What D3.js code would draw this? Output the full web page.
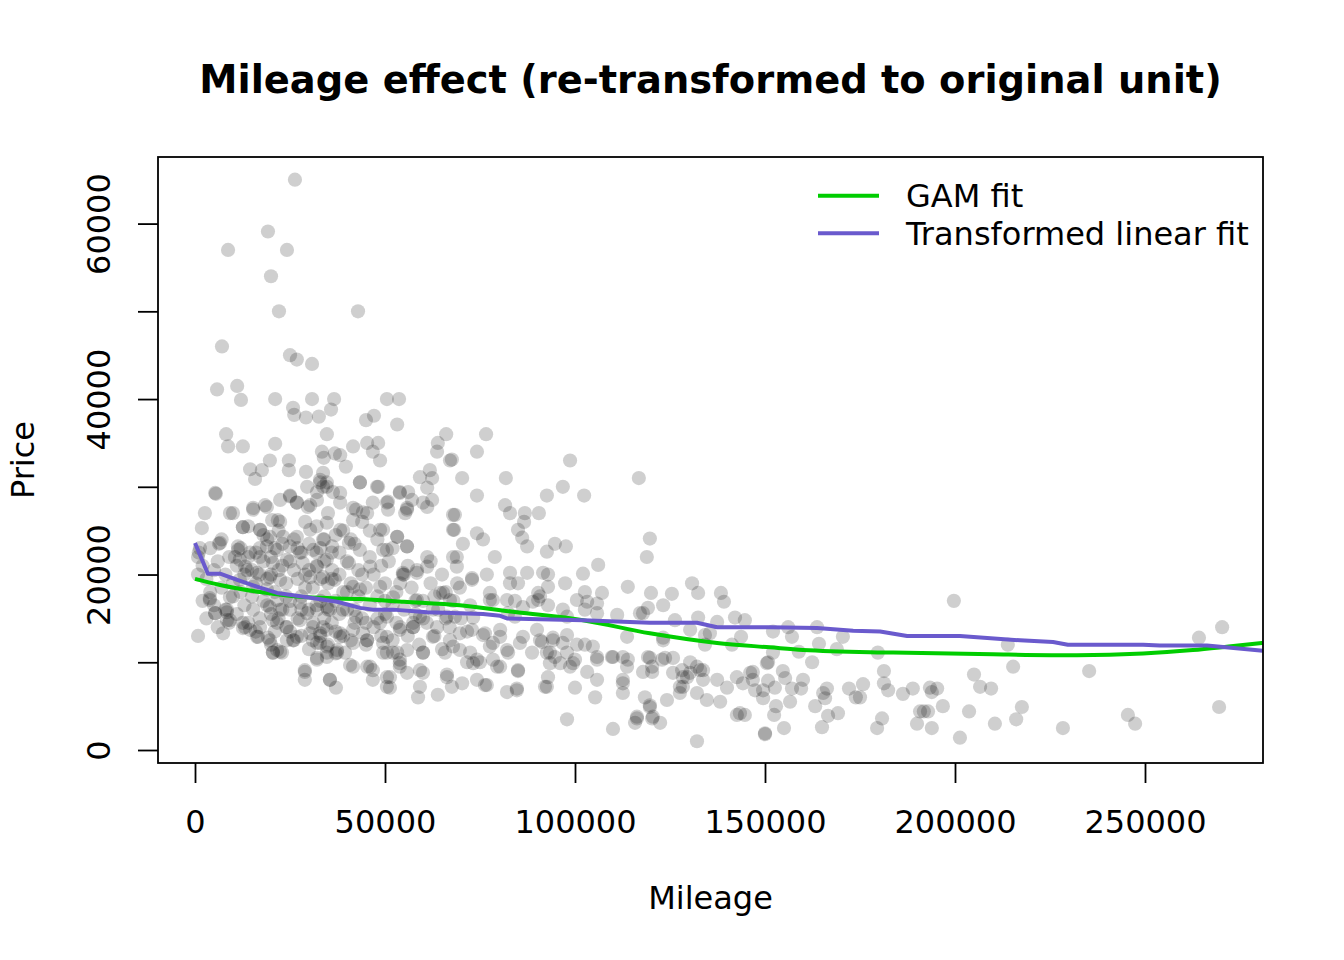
<!DOCTYPE html>
<html><head><meta charset="utf-8">
<script src="https://cdn.jsdelivr.net/npm/d3@7/dist/d3.min.js"></script>
<style>body{margin:0;background:#fff} text{font-family:"DejaVu Sans",sans-serif;fill:#000}</style>
</head><body><svg id="c" width="1344" height="960"></svg>
<script>
// [mileage, price]
const cars = [
[26300,65000],[19200,59100],[8700,57000],[24200,57000],[20000,54000],[22100,50000],[42900,50000],[7100,46000],
[25000,45000],[26800,44500],[30800,44000],[5800,41100],[11100,41500],[12100,39900],[21100,40000],[30800,40000],
[36600,40000],[50500,40000],[53700,40000],[25800,39000],[26100,38200],[29200,37900],[32600,38000],[35800,38800],
[45000,37600],[47100,38100],[53200,37100],
[8200,36000],[8700,34600],[12600,34600],[21100,34900],[34700,36000],[45300,35000],[48200,35000],[46800,34000],
[48700,33000],[41600,34600],[33400,34000],[33900,33300],[36800,33800],[38200,33600],[39700,32300],[19700,33000],
[14500,32000],[17600,31900],[15800,30900],[24700,33000],[24700,31900],[29200,31700],[33700,31600],[32900,30500],
[34700,30000],[32100,29400],[36300,29400],[43400,30500],[48200,30000],[59200,31100],[61800,31900],[62400,31000],
[63900,35000],[66100,36000],[63700,34000],[67100,33000],[61100,29900],[62400,28500],[61100,27700],[53900,29400],
[56100,29400],[57100,28500],[55800,27600],[55300,27000],[67900,26800],[67900,25100],[5500,29200],[2600,27000],
[10000,27000],[1800,25300],[12600,25400],[15300,27600],[6300,23500],[1300,23000],[11300,23200],[800,22000],
[800,20000],[10500,22000],[13200,20900],[25000,29000],[26800,28200],[30300,27900],[29500,30000],[22400,28500],
[18400,27900],[17100,25100],[21800,26200],[38200,28200],[41600,27600],[44200,27100],[46800,28200],[50800,28300],
[50800,27400],[48700,25100],[53200,24300],[55800,23200],[50500,22800],[61100,22000],[61100,20900],[67900,22000],
[68900,20900],[54700,20000],[58400,20200],[64500,17900],[67100,17100],[58400,17100],[57400,14000],[63700,14000],
[67100,12500],[60000,11100],[65800,11100],[52100,11100],[53900,9500],[60000,8800],[66300,8600],[63900,6300],
[58700,6000],[51300,7100],[50500,8300],[46800,9100],[45300,9500],[40800,9700],[37400,11100],[39500,11100],
[34700,11100],[32100,10500],[28900,9100],[28900,8000],[35500,8000],[37100,7100],[20500,11100],[22900,11100],
[21600,11400],[800,13000],[7400,13300],[5300,15600],[3900,17100],[8400,16000],[8400,14800],[13200,14000],
[16600,12900],[19200,12800],[25800,12500],[32900,13300],[32900,12200],[38200,12900],[41600,13700],[45300,12500],
[49500,12200],[50500,11100],[53900,10300],
// dense cluster
[14000,22000],[15000,20500],[16000,19000],[17000,23000],[18000,21500],[18000,17000],[19000,24000],[19000,19500],
[20000,15500],[20000,22000],[21000,18000],[21000,13500],[22000,20500],[22000,25000],[23000,16000],[23000,23500],
[24000,19000],[24000,14000],[25000,21500],[25000,17000],[26000,24000],[26000,12500],[27000,19500],[27000,15000],
[28000,22500],[28000,17500],[28000,13000],[29000,20000],[29000,26000],[30000,16000],[30000,23500],[30000,11500],
[31000,18500],[31000,14000],[32000,21000],[32000,25500],[32000,16500],[33000,13000],[33000,19500],[33000,23000],
[34000,15000],[34000,17500],[34000,21500],[35000,12000],[35000,27000],[35000,19000],[36000,14500],[36000,22500],
[37000,17000],[37000,24500],[37000,11000],[38000,20000],[38000,15500],[39000,18000],[39000,13000],[39000,25000],
[40000,21500],[40000,16000],[41000,19000],[41000,12500],[42000,23500],[42000,14500],[43000,17500],[43000,20500],
[44000,15000],[44000,26000],[45000,18500],[45000,12000],[46000,22000],[46000,16500],[47000,14000],[47000,20000],
[48000,17500],[48000,24000],[49000,13000],[50000,19000],[50000,15500],[51000,21500],[52000,16500],[52000,12500],
[53000,18000],[54000,14000],[55000,20000],[55000,16000],[56000,13000],[57000,18500],[58000,15500],[59000,12000],
[60000,17000],[61000,14500],[62000,19000],[63000,13000],[64000,16000],[65000,11500],[66000,18000],[67000,14000],
[1000,22500],[2000,21000],[2000,17000],[3000,19500],[3000,15000],[4000,23000],[4000,18000],[5000,16500],
[5000,20500],[6000,14000],[6000,21500],[7000,18500],[7000,24000],[8000,16000],[8000,20000],[9000,22000],
[9000,14500],[10000,17500],[10000,19000],[11000,21000],[11000,15500],[12000,23000],[12000,18000],[13000,16500],
[13000,20000],[14000,14500],[14000,25500],[15000,17500],[16000,13500],[16000,22500],[17000,20000],[17000,15000],
[18000,24500],[19000,16500],[20000,20000],[20000,12000],[21000,23000],[22000,15000],[23000,21000],[24000,17500],
[25000,13500],[26000,20500],[27000,23000],[28000,16000],[29000,18500],[30000,20500],[31000,12500],[32000,22500],
[33000,17000],[34000,24000],[35000,16000],[36000,19500],[37000,13500],[38000,22500],[40000,18000],[41000,24000],
[42000,16000],[44000,20000],[45000,14500],[46000,25000],[48000,15000],[49000,21000],[50000,17000],[52000,23000],
[53000,14500],[54000,19000],[56000,21000],[58000,17000],[60000,15000],[62000,21500],[63000,17500],[65000,20000],
[66000,15000],[68000,17000],[69000,19000],[70000,15000],
// dense cluster, second pass
[18900,27700],[15300,27400],[20300,26200],[22400,26000],[25000,28900],[26800,28200],[29700,27700],[32100,28500],
[33700,30000],[32900,30800],[17100,25100],[19700,24300],[23200,24300],[26800,24300],[30300,25100],[18900,23200],
[21600,22800],[25000,23200],[27600,22500],[31100,22800],[33700,24000],[17100,22000],[20500,21300],[24200,21700],
[28400,21300],[32100,20900],[34700,21700],[16300,20200],[19700,19700],[22400,19400],[30300,19700],[33700,19700],
[18900,18300],[21600,17100],[19700,16300],[22400,16000],[25000,16000],[27600,16800],[29500,15600],[32100,16000],
[34700,16300],[20500,14800],[21600,14500],[24200,14000],[27600,14800],[31100,14500],[33700,14000],[12600,14500],
[14500,13700],[16300,12900],[19700,12500],[24200,12500],[26800,12900],[30300,13300],[32100,12200],[34700,11800],
[20500,11100],[22400,11200],[32100,10300],[28900,8900],[3900,17300],[5300,15600],[8400,15700],[9200,14800],
[12600,13900],[11800,21700],[11300,22800],[13700,20500],[14500,22500],[12600,25400],[9200,27000],[6600,23600],
[5300,29300],[9200,17400],[11800,19400],[15300,18600],[15300,16000],[17100,14000],
[34700,30500],[38200,29300],[43400,30500],[47900,30000],[42400,27400],[45300,27000],[50500,28200],[53900,29300],
[55800,27400],[60000,28200],[34700,25900],[38200,25100],[41600,26200],[49500,25100],[53200,24300],[36100,23200],
[40500,23600],[43400,22800],[49500,22800],[55800,23200],[36100,20500],[40500,21300],[46100,20900],[54700,20200],
[58400,20500],[36800,19400],[41600,18600],[43400,18300],[48700,18600],[52100,17400],[65300,17900],[35500,16000],
[38900,16000],[42400,15200],[48700,14500],[50500,15200],[57400,14500],[59200,15200],[62600,16000],[66300,15200],
[34700,13700],[38200,13300],[44200,13300],[50500,12900],[53900,13700],[57400,14000],[62600,12900],[37400,11400],
[41600,12200],[45300,12500],[49500,11100],[53200,11100],[55800,11400],[60000,11100],[34700,10600],[41600,9500],
[46100,9500],[53900,9900],[59200,9100],[35500,8000],[46800,8000],[51300,8300],[55800,8800],[59200,7200],
[66300,8300],[50500,7200],
// 65k - 150k
[76600,36000],[74200,34000],[67600,33100],[70300,31000],[81800,31000],[98700,33000],[116800,31000],[74200,29000],
[92600,29000],[96800,30000],[102400,29000],[81600,27900],[82900,27000],[86800,27000],[90500,27000],[86600,26000],
[85000,25100],[86100,24200],[68400,26800],[68200,25100],[74200,24700],[75800,24000],[70500,23500],[87400,23200],
[78900,22000],[92600,22600],[94700,23500],[97600,23200],[119700,24100],[118900,22000],[106100,21100],[102100,20100],
[113900,18600],[120000,17900],[125500,17800],[123200,16500],[130800,19000],[132400,17900],[138400,17900],[139200,16900],
[68900,22000],[72900,19400],[76800,20000],[82900,20200],[87400,20200],[91600,20200],[90300,17900],[77600,17900],
[82100,17100],[102600,18000],[107100,17900],[100500,17100],[97400,19000],[90300,17100],[117900,15600],[111100,15400],
[126300,14800],[137400,14600],[142100,15100],[144700,14800],[130300,13700],[135500,13300],[123200,12500],[134200,12000],
[141300,12000],[113700,12900],[143700,12900],[150500,9900],[119700,10500],[123700,10500],[125800,10500],[130300,10000],
[132100,9500],[117900,8900],[120300,8900],[125800,8800],[128400,8300],[130300,8800],[133700,9100],[137400,8000],
[142600,8300],[144200,7600],[146800,8900],[147400,6800],[149500,6800],[128400,7200],[127600,6500],[132100,6500],
[134700,5700],[138200,5500],[142600,4000],[144700,4000],[150000,1900],[132100,1000],[122400,3100],[120300,3600],
[116300,3600],[115800,3100],[110000,2400],[97900,3500],[124200,5700],[119700,5100],[118400,6000],[112600,6500],
[112600,7600],[105300,6000],[100000,7100],[92600,7200],[92900,8300],[84700,7000],[82100,6600],[76300,7400],
[74200,8000],[70300,7600],[67600,7200],[85000,9000],[79500,9500],[75000,10000],[73200,9900],[96100,9900],
[99500,9900],[105800,10300],[105800,8000],[103200,8900],[93400,11100],[96800,12200],[100500,12000],[104700,11800],
[110000,10600],[112600,10600],[113700,9500],[88700,11100],[86300,12900],[82400,11100],[77600,11800],[80300,12900],
[72400,11100],[67900,11800],[69700,13300],[72900,13700],[76300,13300],[86300,16300],[84200,15200],[82400,15600],
[90000,13700],[90800,12500],[94200,12800],[97900,15200],[102600,16000],[105800,15600],[72400,16500],[68400,15200],
[78400,17100],
[72900,19600],[92900,20000],[69700,18500],[82900,19000],[85000,19000],[92900,18600],[77600,17100],[84200,17000],
[88900,16900],[90800,17500],[92900,16500],[103200,16900],[105800,16700],[96800,16000],[117100,15600],[119200,16200],
[132400,15100],[73200,15100],[71600,13500],[75800,13100],[80300,13700],[91300,12300],[94200,12500],[97900,13100],
[123200,12800],[134200,13100],[69700,11400],[78400,12200],[82100,11400],[85500,12200],[92600,11100],[94700,10600],
[97900,11100],[100000,10300],[102600,12000],[105800,10600],[109700,10600],[113900,10300],[119200,10600],[120300,9500],
[122900,10300],[128200,9100],[129500,8300],[132900,9100],[133700,8000],[140000,7100],[146100,8800],[146800,8000],
[71600,10000],[74200,10300],[78400,10300],[80300,9500],[85000,9100],[76800,7400],[84700,6800],[92100,7200],
[93400,9900],[98700,9500],[112600,8000],[127600,7200],[119700,4900],[116300,3800],[120500,3800],[143400,4200],
// 150k+
[199700,17000],[156100,14000],[163700,14000],[152100,13500],[157100,12900],[164200,12100],[170500,12900],[168900,11500],
[152100,11100],[158900,11200],[150800,10000],[162400,10000],[179700,11100],[213900,12000],[215300,9500],[235300,9000],
[264200,12800],[270300,14000],[269500,4900],[181300,9000],[154700,9000],[155300,8200],[160000,8000],[150800,7900],
[152600,7100],[157100,7000],[159500,7000],[166300,7000],[165300,6500],[165800,5900],[172100,7000],[175800,7500],
[173900,6000],[175000,6000],[181300,7600],[182400,6800],[186300,6400],[188900,7000],[193400,7100],[195300,7000],
[193900,6600],[205000,8600],[206600,7200],[209500,7000],[217600,4900],[216100,3500],[210500,3000],[203700,4400],
[196800,5000],[190800,4400],[191800,4400],[192900,4400],[190000,3000],[193900,2500],[201300,1400],[228400,2500],
[245500,4000],[247400,3000],[180800,3600],[179500,2500],[169200,4200],[166600,3900],[165000,2600],[163200,5000],
[155000,2500],[150000,1800],[152400,4000],[152900,5000],[156600,5500],[149500,5900]
];
const gamMileage = [0,6600,17100,29500,43400,55000,69700,84700,102100,119700,137400,151300,160000,183700,210000,232100,249500,262600,272000,281000];
const gamPrice   = [19500,18800,18000,17400,17200,16900,16500,15700,14800,13300,12200,11700,11400,11100,10900,10800,11000,11400,11800,12200];
const linMileage = [0,3400,6600,11100,17100,21600,29500,37400,43400,46800,52100,61100,69700,75800,80300,82100,102100,119700,132100,137400,151300,163700,173200,180300,187400,201300,217100,225800,229700,249500,253900,266300,281000];
const linPrice   = [23600,20100,20100,19400,18500,17900,17400,16900,16200,16000,16000,15700,15600,15500,15300,15000,14800,14500,14500,14000,14000,13900,13600,13500,13000,13000,12500,12300,12000,12000,11900,11900,11300];
const xTicks = [0,50000,100000,150000,200000,250000];
const yTicks = [0,10000,20000,30000,40000,50000,60000];
const yTickLabels = [0,20000,40000,60000];
const legendLabels = ["GAM fit","Transformed linear fit"];
const colGam = "#00CD00", colLin = "#6A5ACD";

const svg = d3.select("#c");
const L=158,R=1263,T=157,B=763;
const FS = "32px";
const x = d3.scaleLinear().domain([-9737,281053]).range([L,R]);
const y = d3.scaleLinear().domain([-1481,67590]).range([B,T]);

svg.append("defs").append("clipPath").attr("id","clip")
  .append("rect").attr("x",L).attr("y",T).attr("width",R-L).attr("height",B-T);

const plot = svg.append("g").attr("clip-path","url(#clip)");
plot.selectAll("circle").data(cars).join("circle")
  .attr("cx",d=>x(d[0])).attr("cy",d=>y(d[1])).attr("r",7.1)
  .attr("fill","rgba(0,0,0,0.19)");

plot.append("path").datum(gamMileage.map((m,i)=>[m,gamPrice[i]]))
  .attr("d",d3.line().x(d=>x(d[0])).y(d=>y(d[1])).curve(d3.curveMonotoneX))
  .attr("fill","none").attr("stroke",colGam).attr("stroke-width",4);
plot.append("path").datum(linMileage.map((m,i)=>[m,linPrice[i]]))
  .attr("d",d3.line().x(d=>x(d[0])).y(d=>y(d[1]))).attr("fill","none").attr("stroke",colLin).attr("stroke-width",4)
  .attr("stroke-linejoin","round");

// box
svg.append("rect").attr("x",L).attr("y",T).attr("width",R-L).attr("height",B-T)
  .attr("fill","none").attr("stroke","#000").attr("stroke-width",1.8);

// x axis
const xa = svg.append("g").attr("transform",`translate(0,${B})`)
  .call(d3.axisBottom(x).tickValues(xTicks).tickSize(20).tickPadding(0).tickFormat(d3.format("d")));
xa.select(".domain").remove();
xa.selectAll("line").attr("stroke","#000").attr("stroke-width",1.8);
xa.selectAll("text").attr("dy",null).attr("y",70).style("font-size",FS).attr("font-family","DejaVu Sans");

// y axis
const ya = svg.append("g").attr("transform",`translate(${L},0)`)
  .call(d3.axisLeft(y).tickValues(yTicks).tickSize(20).tickFormat(d=>yTickLabels.includes(d)?d3.format("d")(d):""));
ya.select(".domain").remove();
ya.selectAll("line").attr("stroke","#000").attr("stroke-width",1.8);
ya.selectAll("text").attr("x",null).attr("dy",null)
  .attr("transform","translate(-48,0) rotate(-90)").attr("text-anchor","middle")
  .style("font-size",FS).attr("font-family","DejaVu Sans");

// titles
svg.append("text").attr("x",(L+R)/2).attr("y",93).attr("text-anchor","middle")
  .style("font-size","38.4px").style("font-weight","bold").text("Mileage effect (re-transformed to original unit)");
svg.append("text").attr("x",(L+R)/2).attr("y",909).attr("text-anchor","middle")
  .style("font-size",FS).text("Mileage");
svg.append("text").attr("transform",`translate(34,${(T+B)/2}) rotate(-90)`).attr("text-anchor","middle")
  .style("font-size",FS).text("Price");

// legend
const lg = svg.append("g");
[colGam,colLin].forEach((c,i)=>{
  const yy = 195.7 + i*37.6;
  lg.append("line").attr("x1",818).attr("x2",879).attr("y1",yy).attr("y2",yy)
    .attr("stroke",c).attr("stroke-width",4);
  lg.append("text").attr("x",906).attr("y",yy+11.5).style("font-size",FS).text(legendLabels[i]);
});
</script></body></html>
